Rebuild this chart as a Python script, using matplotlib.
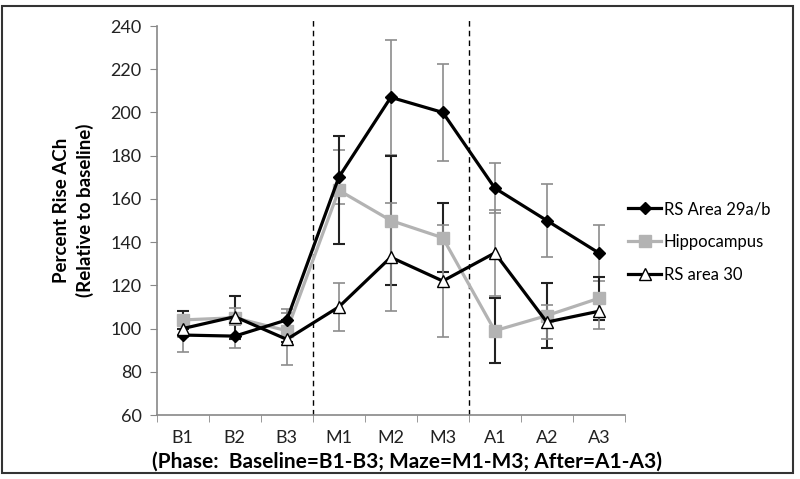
import numpy as np
import matplotlib.pyplot as plt
from matplotlib.patches import Rectangle

plt.rcParams['font.family'] = ['Lato', 'DejaVu Sans']

phases = ["B1", "B2", "B3", "M1", "M2", "M3", "A1", "A2", "A3"]

rs29 = [97, 96.5, 104, 170, 207, 200, 165, 150, 135]
rs29_err = [8, 5.5, 5, 12.5, 26.5, 22.5, 11.6, 17, 13]

hippo = [104, 105, 99, 164, 150, 142, 99, 106, 114]
hippo_err = [4, 10, 5, 25, 30, 16, 15, 15, 10]

rs30 = [100, 105.5, 95, 110, 133, 122, 135, 103, 108]
rs30_err = [4, 4, 12, 11, 25, 26, 20, 8, 8]

x = np.arange(len(phases))

fig = plt.figure(figsize=(8, 4.79), dpi=100)
ax = fig.add_axes([0.196, 0.1336, 0.585, 0.8121])

# outer frame round the whole picture
fig.patches.append(Rectangle((0.003, 0.012), 0.988, 0.975, transform=fig.transFigure,
                             fill=False, edgecolor='#333333', linewidth=1.5))

# phase separators
for xv in [2.5, 5.5]:
    ax.plot([xv, xv], [60, 244], color='black', linestyle=(0, (4, 3)), linewidth=1, clip_on=False, zorder=1)

# error bars (drawn under the lines)
ax.errorbar(x, rs29, yerr=rs29_err, fmt='none', ecolor='#8c8c8c', elinewidth=1.2, capsize=4, capthick=1.2, zorder=2)
ax.errorbar(x, hippo, yerr=hippo_err, fmt='none', ecolor='#222222', elinewidth=1.5, capsize=4, capthick=1.5, zorder=2)
ax.errorbar(x, rs30, yerr=rs30_err, fmt='none', ecolor='#8c8c8c', elinewidth=1.2, capsize=4, capthick=1.2, zorder=2)

ax.plot(x, rs29, color='black', linewidth=2.3, marker='D', markersize=6.5, markerfacecolor='black',
        markeredgecolor='black', label='RS Area 29a/b', zorder=4)
ax.plot(x, hippo, color='#b3b3b3', linewidth=2.3, marker='s', markersize=8.5, markerfacecolor='#b3b3b3',
        markeredgecolor='#b3b3b3', label='Hippocampus', zorder=3)
ax.plot(x, rs30, color='black', linewidth=2.3, marker='^', markersize=9, markerfacecolor='white',
        markeredgecolor='black', markeredgewidth=1, label='RS area 30', zorder=5)

ax.set_xlim(-0.5, 8.5)
ax.set_ylim(60, 240)
ax.set_yticks(np.arange(60, 241, 20))
ax.set_xticks(x)
ax.set_xticklabels(phases)
ax.set_xticks(np.arange(-0.5, 9, 1), minor=True)
ax.tick_params(axis='x', which='major', length=0, labelsize=13, colors='#222222', pad=11)
ax.tick_params(axis='x', which='minor', length=5, color='#888888')
ax.tick_params(axis='y', length=5, color='#888888', labelsize=13, labelcolor='#222222', pad=6)

for side in ['top', 'right']:
    ax.spines[side].set_visible(False)
for side in ['left', 'bottom']:
    ax.spines[side].set_color('#888888')
    ax.spines[side].set_linewidth(1.2)

ax.set_ylabel('Percent Rise ACh\n(Relative to baseline)', fontsize=13.5, fontweight='bold', linespacing=1.35)
ax.yaxis.set_label_coords(-0.135, 0.527)
ax.set_xlabel('(Phase:  Baseline=B1-B3; Maze=M1-M3; After=A1-A3)', fontsize=15, fontweight='bold')
ax.xaxis.set_label_coords(0.534, -0.095)

ax.legend(loc='center left', bbox_to_anchor=(0.975, 0.445), frameon=False, fontsize=12,
          handlelength=2.0, handletextpad=0.15, labelspacing=1.0)

plt.savefig('out.png', dpi=100)
